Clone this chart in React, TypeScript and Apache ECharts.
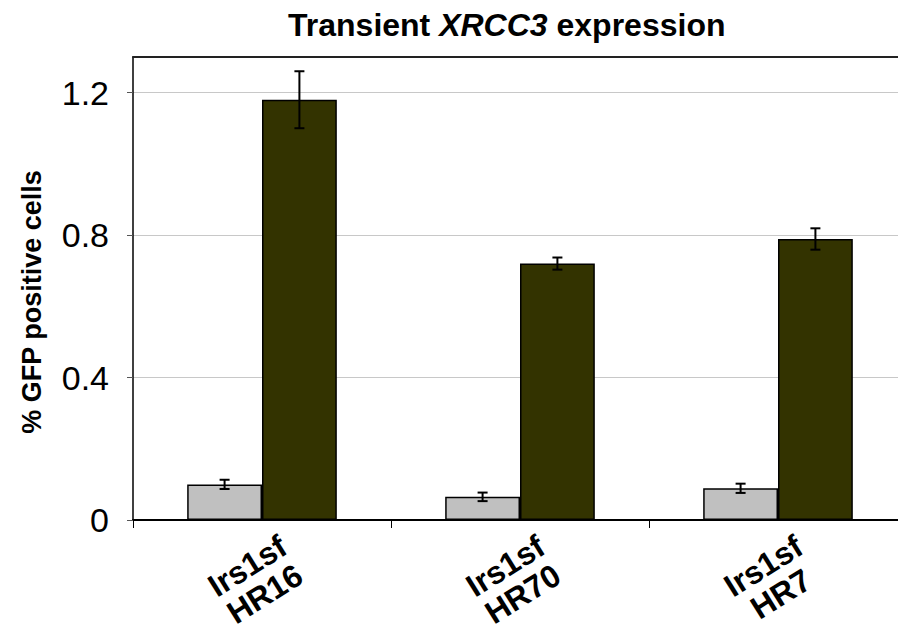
import React, { useEffect, useRef } from "react";
import * as echarts from "echarts";

const categories = ["Irs1sf\nHR16", "Irs1sf\nHR70", "Irs1sf\nHR7"];
const controlValues = [0.1, 0.065, 0.089];
const controlErrors = [0.013, 0.012, 0.013];
const xrcc3Values = [1.18, 0.72, 0.789];
const xrcc3Errors = [0.08, 0.017, 0.03];
const yTicks = [0, 0.4, 0.8, 1.2];

const FONT = "'Liberation Sans', Arial, sans-serif";
const CAT_GAP = 0.42;

function errorSeries(values: number[], errors: number[], side: number) {
  return {
    type: "custom",
    silent: true,
    z: 10,
    data: values.map((v, i) => [i, v, errors[i]]),
    encode: { x: 0, y: 1 },
    renderItem: (params: any, api: any) => {
      const idx = api.value(0);
      const v = api.value(1);
      const e = api.value(2);
      const band = api.size([1, 0])[0];
      const barW = (band * (1 - CAT_GAP)) / 2;
      const c = api.coord([idx, v]);
      const x = c[0] + (side * barW) / 2;
      const yTop = api.coord([idx, v + e])[1];
      const yBot = api.coord([idx, v - e])[1];
      const cap = 5;
      const style = { stroke: "#000", lineWidth: 2 };
      return {
        type: "group",
        children: [
          { type: "line", shape: { x1: x, y1: yTop, x2: x, y2: yBot }, style },
          { type: "line", shape: { x1: x - cap, y1: yTop, x2: x + cap, y2: yTop }, style },
          { type: "line", shape: { x1: x - cap, y1: yBot, x2: x + cap, y2: yBot }, style },
        ],
      };
    },
  };
}

export default function App() {
  const ref = useRef<HTMLDivElement>(null);
  useEffect(() => {
    if (!ref.current) return;
    const chart = echarts.init(ref.current, null, { renderer: "svg" });
    chart.setOption({
      animation: false,
      backgroundColor: "#fff",
      title: {
        text: "{a|Transient }{b|XRCC3}{a| expression}",
        left: 283,
        top: 4,
        textStyle: {
          rich: {
            a: { fontFamily: FONT, fontSize: 32, fontWeight: "bold", color: "#000" },
            b: { fontFamily: FONT, fontSize: 32, fontWeight: "bold", fontStyle: "italic", color: "#000" },
          },
        },
      },
      grid: { left: 133, right: 13, top: 57, bottom: 113, containLabel: false },
      xAxis: [
        {
          type: "category",
          data: categories,
          axisLine: { lineStyle: { color: "#000", width: 2 } },
          axisTick: { show: true, length: 8, lineStyle: { color: "#000", width: 1 } },
          axisLabel: { show: false },
        },
        {
          type: "category",
          position: "top",
          data: categories,
          axisLine: { lineStyle: { color: "#222", width: 2 } },
          axisTick: { show: false },
          axisLabel: { show: false },
        },
      ],
      yAxis: {
        type: "value",
        min: 0,
        max: 1.3,
        interval: 0.4,
        axisLine: { show: true, lineStyle: { color: "#000", width: 1.5 } },
        axisTick: { show: true, length: 6, lineStyle: { color: "#555" }, customValues: yTicks },
        axisLabel: {
          customValues: yTicks,
          margin: 24,
          fontFamily: FONT,
          fontSize: 34,
          color: "#000",
        },
        splitLine: { show: true, lineStyle: { color: "#c8c8c8", width: 1 } },
      },
      series: [
        {
          name: "Control",
          type: "bar",
          data: controlValues,
          barGap: "0%",
          barCategoryGap: "42%",
          itemStyle: { color: "#c0c0c0", borderColor: "#000", borderWidth: 1.5 },
        },
        {
          name: "XRCC3",
          type: "bar",
          data: xrcc3Values,
          barGap: "0%",
          barCategoryGap: "42%",
          itemStyle: { color: "#333300", borderColor: "#000", borderWidth: 1.5 },
        },
        errorSeries(controlValues, controlErrors, -1),
        errorSeries(xrcc3Values, xrcc3Errors, 1),
      ],
    });
    const labelGraphics = categories.map((c, i) => {
      const px = chart.convertToPixel({ xAxisIndex: 0 }, i) as number;
      return {
        type: "text",
        x: px - 6,
        y: 580,
        rotation: (32 * Math.PI) / 180,
        style: {
          text: c,
          fontFamily: FONT,
          fontSize: 32,
          fontWeight: "bold",
          lineHeight: 33,
          fill: "#000",
          align: "center",
          verticalAlign: "middle",
        },
      };
    });
    chart.setOption({
      graphic: [
        {
          type: "text",
          x: 32,
          y: 302,
          rotation: Math.PI / 2,
          style: {
            text: "% GFP positive cells",
            fontFamily: FONT,
            fontSize: 27,
            fontWeight: "bold",
            fill: "#000",
            align: "center",
            verticalAlign: "middle",
          },
        },
        ...labelGraphics,
      ],
    });
    return () => chart.dispose();
  }, []);
  return (
    <div style={{ position: "fixed", left: 0, top: 0, width: 898, height: 633, overflow: "hidden", background: "#fff" }}>
      <div ref={ref} style={{ width: 920, height: 633 }} />
    </div>
  );
}
